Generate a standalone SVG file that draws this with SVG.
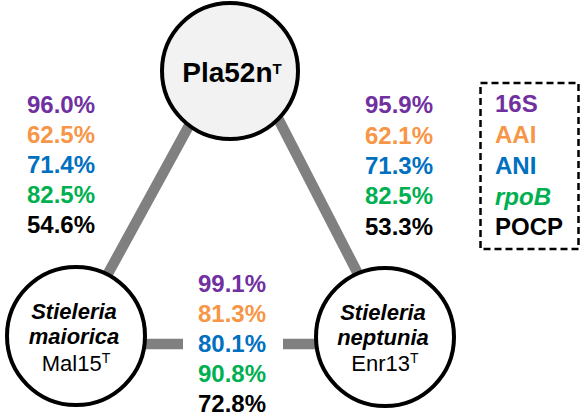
<svg xmlns="http://www.w3.org/2000/svg" width="582" height="416" viewBox="0 0 582 416">
<style>
.edge{stroke:#808080;stroke-width:10.5;fill:none}
.node{stroke:#000;stroke-width:4}
.t{font-family:"Liberation Sans",Arial,sans-serif}
.pct{font-family:"Liberation Sans",Arial,sans-serif;font-size:24px;font-weight:bold}
.p{fill:#7030a0}.o{fill:#f79646}.b{fill:#0070c0}.g{fill:#00b050}.k{fill:#000}
.nm{font-family:"Liberation Sans",Arial,sans-serif;font-size:22px;font-weight:bold;font-style:italic}
.st{font-family:"Liberation Sans",Arial,sans-serif;font-size:22px}
</style>
<rect width="582" height="416" fill="#fff"/>
<g id="connectors">
<line class="edge" x1="197.6" y1="110" x2="99" y2="290"/>
<line class="edge" x1="273.7" y1="110" x2="366.3" y2="290"/>
<line class="edge" x1="130" y1="344" x2="183" y2="344"/>
<line class="edge" x1="283" y1="344" x2="330" y2="344"/>
</g>
<g id="node-pla52n">
<circle class="node" cx="230" cy="71" r="68" fill="#f2f2f2"/>
<text class="t" x="232" y="82" text-anchor="middle" font-size="28" font-weight="bold">Pla52n<tspan font-size="15" dy="-8">T</tspan></text>
</g>
<g id="node-maiorica">
<circle class="node" cx="76" cy="336" r="69" fill="#fff"/>
<text class="nm" x="74" y="319" text-anchor="middle">Stieleria</text>
<text class="nm" x="74" y="344" text-anchor="middle">maiorica</text>
<text class="st" x="76" y="371" text-anchor="middle">Mal15<tspan font-size="14" dy="-8">T</tspan></text>
</g>
<g id="node-neptunia">
<circle class="node" cx="385" cy="337" r="69" fill="#fff"/>
<text class="nm" x="383" y="320" text-anchor="middle">Stieleria</text>
<text class="nm" x="383" y="345" text-anchor="middle">neptunia</text>
<text class="st" x="385" y="371" text-anchor="middle">Enr13<tspan font-size="14" dy="-8">T</tspan></text>
</g>
<g id="values-left" class="pct">
<text class="p" x="27" y="113">96.0%</text>
<text class="o" x="27" y="143">62.5%</text>
<text class="b" x="27" y="173">71.4%</text>
<text class="g" x="27" y="203">82.5%</text>
<text class="k" x="27" y="233">54.6%</text>
</g>
<g id="values-right" class="pct">
<text class="p" x="365" y="113">95.9%</text>
<text class="o" x="365" y="144">62.1%</text>
<text class="b" x="365" y="174">71.3%</text>
<text class="g" x="365" y="204">82.5%</text>
<text class="k" x="365" y="235">53.3%</text>
</g>
<g id="values-bottom" class="pct" text-anchor="middle">
<text class="p" x="232" y="292">99.1%</text>
<text class="o" x="232" y="322">81.3%</text>
<text class="b" x="232" y="352">80.1%</text>
<text class="g" x="232" y="382">90.8%</text>
<text class="k" x="232" y="412">72.8%</text>
</g>
<g id="legend">
<rect x="480.5" y="83" width="98" height="166" fill="none" stroke="#000" stroke-width="2.5" stroke-dasharray="7,4"/>
<g class="pct">
<text class="p" x="495" y="112">16S</text>
<text class="o" x="495" y="143">AAI</text>
<text class="b" x="495" y="174">ANI</text>
<text class="g" x="495" y="205" font-style="italic">rpoB</text>
<text class="k" x="495" y="235">POCP</text>
</g>
</g>
</svg>
